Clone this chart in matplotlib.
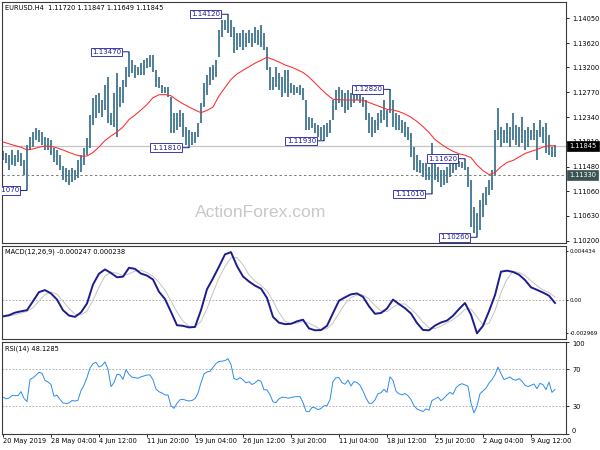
import numpy as np
import matplotlib.pyplot as plt
from matplotlib import transforms

plt.rcParams["font.family"] = "DejaVu Sans"
plt.rcParams["font.size"] = 4.8

# EURUSD H4 bars, 20 May - 14 Aug 2019 (high / low)
highs = [
    1.1175, 1.1172, 1.1168, 1.1177, 1.1168, 1.1177, 1.1172, 1.1160, 1.1186, 1.1200,
    1.1208, 1.1215, 1.1212, 1.1208, 1.1200, 1.1198, 1.1194, 1.1181, 1.1177, 1.1168,
    1.1149, 1.1146, 1.1142, 1.1146, 1.1142, 1.1160, 1.1168, 1.1181, 1.1198, 1.1238,
    1.1267, 1.1272, 1.1276, 1.1264, 1.1290, 1.1303, 1.1241, 1.1276, 1.1310, 1.1286,
    1.1298, 1.1321, 1.1347, 1.1333, 1.1324, 1.1321, 1.1328, 1.1333, 1.1336, 1.1342,
    1.1342, 1.1316, 1.1303, 1.1290, 1.1286, 1.1286, 1.1269, 1.1241, 1.1241, 1.1246,
    1.1241, 1.1217, 1.1212, 1.1208, 1.1208, 1.1224, 1.1258, 1.1293, 1.1307, 1.1321,
    1.1324, 1.1333, 1.1385, 1.1402, 1.1402, 1.1412, 1.1402, 1.1390, 1.1380, 1.1380,
    1.1385, 1.1380, 1.1385, 1.1380, 1.1390, 1.1385, 1.1393, 1.1380, 1.1355, 1.1321,
    1.1303, 1.1321, 1.1310, 1.1303, 1.1316, 1.1316, 1.1293, 1.1290, 1.1286, 1.1290,
    1.1284, 1.1264, 1.1234, 1.1232, 1.1224, 1.1220, 1.1217, 1.1220, 1.1224, 1.1229,
    1.1264, 1.1281, 1.1286, 1.1281, 1.1276, 1.1281, 1.1276, 1.1284, 1.1281, 1.1276,
    1.1269, 1.1264, 1.1241, 1.1234, 1.1229, 1.1241, 1.1246, 1.1264, 1.1246, 1.1282,
    1.1264, 1.1241, 1.1238, 1.1229, 1.1226, 1.1217, 1.1207, 1.1182, 1.1168, 1.1160,
    1.1155, 1.1155, 1.1148, 1.1189, 1.1160, 1.1148, 1.1142, 1.1142, 1.1148, 1.1155,
    1.1160, 1.1160, 1.1158, 1.1156, 1.1162, 1.1148, 1.1125, 1.1078, 1.1068, 1.1091,
    1.1103, 1.1113, 1.1125, 1.1142, 1.1212, 1.1250, 1.1217, 1.1212, 1.1224, 1.1217,
    1.1241, 1.1220, 1.1217, 1.1234, 1.1212, 1.1217, 1.1212, 1.1224, 1.1212, 1.1229,
    1.1217, 1.1224, 1.1203, 1.1182, 1.1185,
]
lows = [
    1.1160, 1.1155, 1.1142, 1.1151, 1.1149, 1.1156, 1.1149, 1.1134, 1.1107, 1.1177,
    1.1182, 1.1194, 1.1191, 1.1186, 1.1177, 1.1177, 1.1168, 1.1156, 1.1151, 1.1142,
    1.1125, 1.1122, 1.1116, 1.1122, 1.1125, 1.1129, 1.1139, 1.1151, 1.1168, 1.1181,
    1.1220, 1.1232, 1.1241, 1.1234, 1.1246, 1.1224, 1.1220, 1.1217, 1.1200, 1.1252,
    1.1258, 1.1286, 1.1303, 1.1310, 1.1302, 1.1307, 1.1307, 1.1307, 1.1319, 1.1321,
    1.1312, 1.1286, 1.1284, 1.1276, 1.1276, 1.1269, 1.1207, 1.1207, 1.1212, 1.1217,
    1.1200, 1.1186, 1.1181, 1.1186, 1.1189, 1.1200, 1.1224, 1.1252, 1.1272, 1.1290,
    1.1298, 1.1303, 1.1338, 1.1373, 1.1385, 1.1380, 1.1373, 1.1345, 1.1350, 1.1355,
    1.1350, 1.1355, 1.1362, 1.1355, 1.1362, 1.1359, 1.1355, 1.1350, 1.1316, 1.1281,
    1.1281, 1.1286, 1.1281, 1.1269, 1.1276, 1.1269, 1.1276, 1.1272, 1.1276, 1.1272,
    1.1264, 1.1212, 1.1212, 1.1215, 1.1207, 1.1200, 1.1194, 1.1193, 1.1200, 1.1207,
    1.1229, 1.1246, 1.1258, 1.1252, 1.1241, 1.1246, 1.1252, 1.1258, 1.1264, 1.1258,
    1.1252, 1.1229, 1.1207, 1.1200, 1.1207, 1.1212, 1.1224, 1.1229, 1.1217, 1.1241,
    1.1217, 1.1212, 1.1212, 1.1207, 1.1200, 1.1194, 1.1165, 1.1142, 1.1139, 1.1137,
    1.1130, 1.1125, 1.1125, 1.1101, 1.1125, 1.1122, 1.1113, 1.1116, 1.1120, 1.1130,
    1.1137, 1.1142, 1.1148, 1.1146, 1.1142, 1.1113, 1.1044, 1.1033, 1.1026, 1.1039,
    1.1061, 1.1082, 1.1099, 1.1108, 1.1134, 1.1194, 1.1182, 1.1189, 1.1189, 1.1182,
    1.1194, 1.1186, 1.1182, 1.1189, 1.1177, 1.1182, 1.1194, 1.1194, 1.1160, 1.1200,
    1.1189, 1.1172, 1.1168, 1.1165, 1.1165,
]

# moving average, one value every second bar
ma = [
    1.11909, 1.11878, 1.11847, 1.11819, 1.11771, 1.11788, 1.11819, 1.11840, 1.11833, 1.11807,
    1.11771, 1.11729, 1.11691, 1.11663, 1.11667, 1.11727, 1.11822, 1.11935, 1.12013, 1.12082,
    1.12169, 1.12298, 1.12376, 1.12463, 1.12558, 1.12676, 1.12726, 1.12730, 1.12709, 1.12634,
    1.12570, 1.12515, 1.12463, 1.12416, 1.12456, 1.12515, 1.12705, 1.12852, 1.12991, 1.13086,
    1.13150, 1.13211, 1.13273, 1.13323, 1.13375, 1.13337, 1.13294, 1.13242, 1.13207, 1.13164,
    1.13112, 1.13034, 1.12930, 1.12826, 1.12730, 1.12648, 1.12641, 1.12636, 1.12636, 1.12636,
    1.12631, 1.12593, 1.12553, 1.12515, 1.12475, 1.12463, 1.12435, 1.12394, 1.12338, 1.12264,
    1.12176, 1.12073, 1.11952, 1.11874, 1.11805, 1.11748, 1.11705, 1.11680, 1.11639, 1.11511,
    1.11414, 1.11346, 1.11381, 1.11480, 1.11556, 1.11589, 1.11649, 1.11710, 1.11746, 1.11779,
    1.11822, 1.11845, 1.11840,
]

# MACD(12,26,9), every second bar
macd = [
    -0.00145, -0.00135, -0.00112, -0.00100, -0.00090, -0.00010, 0.00072, 0.00090, 0.00060, 0.00005,
    -0.00090, -0.00138, -0.00150, -0.00110, -0.00030, 0.00140, 0.00237, 0.00275, 0.00243, 0.00205,
    0.00210, 0.00290, 0.00280, 0.00238, 0.00220, 0.00185, 0.00075, 0.00010, -0.00105, -0.00225,
    -0.00230, -0.00244, -0.00240, -0.00090, 0.00098, 0.00195, 0.00300, 0.00410, 0.00430, 0.00305,
    0.00212, 0.00167, 0.00130, 0.00103, 0.00020, -0.00150, -0.00202, -0.00215, -0.00212, -0.00190,
    -0.00175, -0.00253, -0.00270, -0.00268, -0.00230, -0.00116, -0.00005, 0.00025, 0.00052, 0.00060,
    0.00030, -0.00055, -0.00122, -0.00115, -0.00075, 0.00005, -0.00035, -0.00072, -0.00120, -0.00205,
    -0.00267, -0.00270, -0.00228, -0.00200, -0.00183, -0.00140, -0.00080, -0.00026, -0.00130, -0.00297,
    -0.00230, -0.00100, 0.00045, 0.00255, 0.00264, 0.00253, 0.00228, 0.00180, 0.00115, 0.00092,
    0.00068, 0.00040, -0.00025,
]
signal = [
    -0.00150, -0.00142, -0.00131, -0.00116, -0.00101, -0.00067, -0.00009, 0.00051, 0.00074, 0.00052,
    -0.00008, -0.00074, -0.00126, -0.00133, -0.00097, 0.00000, 0.00116, 0.00217, 0.00252, 0.00241,
    0.00219, 0.00235, 0.00260, 0.00269, 0.00246, 0.00214, 0.00160, 0.00090, -0.00007, -0.00107,
    -0.00187, -0.00233, -0.00238, -0.00191, -0.00077, 0.00068, 0.00198, 0.00302, 0.00380, 0.00382,
    0.00316, 0.00228, 0.00170, 0.00133, 0.00084, -0.00009, -0.00111, -0.00189, -0.00210, -0.00206,
    -0.00192, -0.00206, -0.00233, -0.00264, -0.00256, -0.00205, -0.00117, -0.00032, 0.00024, 0.00046,
    0.00047, 0.00012, -0.00049, -0.00097, -0.00104, -0.00062, -0.00035, -0.00034, -0.00076, -0.00132,
    -0.00197, -0.00247, -0.00255, -0.00233, -0.00204, -0.00174, -0.00134, -0.00082, -0.00079, -0.00151,
    -0.00219, -0.00209, -0.00095, 0.00067, 0.00188, 0.00257, 0.00248, 0.00220, 0.00174, 0.00129,
    0.00092, 0.00067, 0.00028,
]

# RSI(14), every bar
rsi = [
    39.9, 38.0, 38.8, 41.5, 41.5, 41.5, 45.8, 38.5, 35.0, 59.0,
    60.8, 63.5, 66.8, 65.7, 58.0, 56.2, 53.5, 40.8, 42.0, 37.5,
    33.5, 33.0, 33.5, 36.2, 35.6, 36.5, 47.0, 52.8, 61.0, 71.5,
    76.0, 77.5, 72.5, 74.0, 78.0, 70.0, 51.3, 55.5, 64.5, 64.0,
    59.0, 69.5, 64.5, 61.5, 60.8, 60.3, 61.8, 62.8, 63.8, 63.9,
    58.6, 48.5, 45.7, 44.3, 42.2, 42.2, 30.5, 27.7, 33.2, 37.0,
    37.6, 36.4, 35.7, 36.2, 38.2, 44.0, 55.4, 64.9, 67.2, 67.7,
    72.0, 76.2, 78.4, 78.7, 79.3, 81.4, 75.0, 60.0, 58.6, 61.0,
    58.5, 55.3, 56.5, 53.5, 55.3, 58.2, 57.0, 47.8, 47.7, 42.5,
    34.7, 33.9, 38.0, 39.8, 39.6, 38.7, 39.3, 40.2, 40.4, 40.4,
    34.0, 24.6, 24.0, 28.7, 28.4, 26.3, 27.6, 30.5, 30.6, 37.0,
    56.7, 60.8, 61.0, 55.5, 53.8, 58.2, 52.0, 56.7, 55.6, 52.8,
    46.5, 39.0, 33.2, 33.2, 36.8, 43.7, 44.5, 48.3, 45.0, 61.8,
    58.0, 46.2, 43.5, 42.3, 43.7, 41.5, 37.3, 30.6, 27.0, 25.6,
    24.3, 27.1, 25.8, 36.2, 37.9, 40.0, 36.0, 38.8, 42.3, 45.0,
    43.0, 50.0, 53.0, 54.4, 53.1, 51.7, 33.4, 22.8, 30.0, 43.6,
    46.5, 49.5, 55.0, 58.8, 64.0, 72.3, 65.3, 58.8, 60.3, 61.7,
    59.0, 58.1, 59.9, 57.0, 52.8, 51.3, 52.7, 54.0, 49.0, 54.8,
    53.3, 48.0, 56.0, 45.0, 48.1,
]

swing_bars = [8, 42, 75, 62, 107, 129, 143, 154, 158]
swing_prices = [1.1107, 1.1347, 1.1412, 1.1181, 1.1193, 1.1282, 1.1101, 1.1162, 1.1026]
swing_texts = ["1.11070", "1.13470", "1.14120", "1.11810", "1.11930",
               "1.12820", "1.11010", "1.11620", "1.10260"]

price_ticks = [1.14050, 1.13620, 1.13200, 1.12770, 1.12340, 1.11910,
               1.11480, 1.11060, 1.10630, 1.10200]
time_labels = ["20 May 2019", "28 May 04:00", "4 Jun 12:00", "11 Jun 20:00",
               "19 Jun 04:00", "26 Jun 12:00", "3 Jul 20:00", "11 Jul 04:00",
               "18 Jul 12:00", "25 Jul 20:00", "2 Aug 04:00", "9 Aug 12:00"]
bid = 1.11845
level = 1.11330

bar_col = "#3f7590"
navy = "#1c1c8e"
frame = "#3a3a3a"

bars = np.arange(len(highs))
half = bars[::2]

fig = plt.figure(figsize=(6, 4.5), dpi=100)
ax = fig.add_axes([2 / 600, 1 - 243 / 450, 564 / 600, 241 / 450])
ax_m = fig.add_axes([2 / 600, 1 - 339 / 450, 564 / 600, 93 / 450], sharex=ax)
ax_r = fig.add_axes([2 / 600, 1 - 434 / 450, 564 / 600, 92.5 / 450], sharex=ax)

for a in (ax, ax_m, ax_r):
    for s in a.spines.values():
        s.set_color(frame)
        s.set_linewidth(0.8)
    a.yaxis.tick_right()
    a.tick_params(axis="y", direction="out", length=2.2, width=0.6,
                  pad=2.2, labelsize=4.8, colors="black")
    a.tick_params(axis="x", bottom=False, labelbottom=False)

# main chart
ax.text(0.459, 0.1245, "ActionForex.com", transform=ax.transAxes,
        fontsize=12.6, family="Liberation Sans", color="#c8c8c8",
        ha="center", va="center", zorder=0)
ax.axhline(bid, color="#c4c4c4", lw=0.9, zorder=1)
ax.axhline(level, color="#7a7a7a", lw=0.7, ls=(0, (2.5, 2.5)), zorder=1)
ax.vlines(bars, lows, highs, color=bar_col, lw=1.3, zorder=2)
ax.plot(half, ma, color="#ff2a2a", lw=0.75, zorder=3)

for b, p, t in zip(swing_bars, swing_prices, swing_texts):
    ax.annotate(t, xy=(b, p), xytext=(-8, 0), textcoords="offset pixels",
                ha="right", va="center", color=navy, fontsize=5,
                bbox=dict(boxstyle="square,pad=0.18", fc="white", ec="#3a3ab0", lw=0.7),
                arrowprops=dict(arrowstyle="-", color=navy, lw=0.7,
                                shrinkA=0, shrinkB=0),
                clip_on=True, zorder=5)

ax.set_ylim(1.10161, 1.14332)
ax.set_yticks(price_ticks)
ax.set_yticklabels([f"{v:.5f}" for v in price_ticks])
ax.text(0.0053, 0.988, "EURUSD.H4  1.11720 1.11847 1.11649 1.11845",
        transform=ax.transAxes, ha="left", va="top")

tr = transforms.blended_transform_factory(ax.transAxes, ax.transData)
ax.text(1.006, bid, f"{bid:.5f}", transform=tr, ha="left", va="center",
        color="white", fontsize=4.8, clip_on=False, zorder=10,
        bbox=dict(boxstyle="square,pad=0.3", fc="black", ec="black", lw=0.5))
ax.text(1.006, level, f"{level:.5f}", transform=tr, ha="left", va="center",
        color="white", fontsize=4.8, clip_on=False, zorder=10,
        bbox=dict(boxstyle="square,pad=0.3", fc="#3b5453", ec="#3b5453", lw=0.5))

# MACD
ax_m.axhline(0, color="#a0a0a0", lw=0.6, ls=(0, (2, 2)))
ax_m.plot(half, signal, color="#c4c4c4", lw=0.7)
ax_m.plot(half, macd, color=navy, lw=1.4)
ax_m.set_ylim(-0.00348, 0.00485)
ax_m.set_yticks([0.004434, 0.0, -0.002969])
ax_m.set_yticklabels(["0.004434", "0.00", "-0.002969"])
ax_m.tick_params(axis="y", labelsize=4.0, length=1.6, pad=1.2)
ax_m.text(0.0053, 0.975, "MACD(12,26,9) -0.000247 0.000238",
          transform=ax_m.transAxes, ha="left", va="top")

# RSI
for lv in (70, 30):
    ax_r.axhline(lv, color="#a8a8a8", lw=0.6, ls=(0, (2, 2)))
ax_r.plot(bars, rsi, color="#2a8cf0", lw=0.7)
ax_r.set_ylim(0, 100)
ax_r.set_yticks([100, 70, 30, 0])
ax_r.set_yticklabels(["100", "70", "30", "0"])
yl = ax_r.get_yticklabels()
yl[0].set_va("top")
yl[3].set_va("bottom")
ax_r.text(0.0053, 0.96, "RSI(14) 48.1285", transform=ax_r.transAxes,
          ha="left", va="top")

ax_r.set_xticks(bars[::16])
ax_r.set_xticklabels(time_labels)
ax_r.tick_params(axis="x", bottom=True, labelbottom=True, direction="out",
                 length=2, width=0.6, pad=1.2, labelsize=4.8)
for lab in ax_r.get_xticklabels():
    lab.set_ha("left")
ax.set_xlim(-0.33, 187.67)

fig.savefig("out.png", dpi=100, facecolor="white")
